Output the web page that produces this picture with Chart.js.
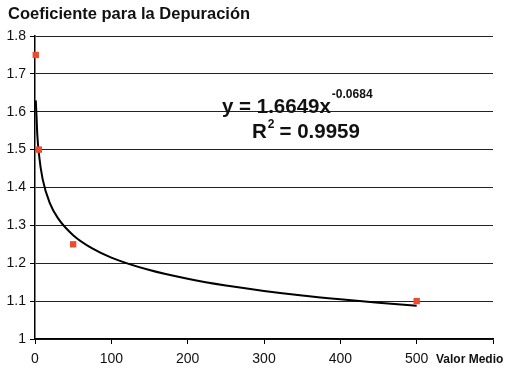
<!DOCTYPE html>
<html>
<head>
<meta charset="utf-8">
<script src="https://cdn.jsdelivr.net/npm/chart.js@4.4.1/dist/chart.umd.min.js"></script>
<style>
  html, body { margin: 0; padding: 0; background: #fff; }
  #wrap { width: 514px; height: 376px; position: relative; }
</style>
</head>
<body>
<div id="wrap"><canvas id="chart" width="514" height="376"></canvas></div>
<script>
// measured points
const pointX = [1, 5, 50, 500];
const pointY = [1.75, 1.5, 1.25, 1.1];

// trend curve
const curveX = [1, 2, 3, 5, 10, 20, 30, 50, 75, 100, 150, 200, 250, 300, 350, 400, 450, 500];
const curveY = [1.63, 1.588, 1.54, 1.491, 1.422, 1.356, 1.319, 1.274, 1.239, 1.215, 1.182, 1.159, 1.141, 1.127, 1.115, 1.105, 1.096, 1.088];

const yTicks = [1, 1.1, 1.2, 1.3, 1.4, 1.5, 1.6, 1.7, 1.8];
const xTicks = [0, 100, 200, 300, 400, 500, 600];

const titleText = "Coeficiente para la Depuración";
const xTitle = "Valor Medio";

// extra texts: title, equation, axis name
const textPlugin = {
    id: 'texts',
    afterDraw(chart) {
        const c = chart.ctx;
        c.save();
        c.fillStyle = '#111';
        c.textBaseline = 'alphabetic';
        c.textAlign = 'left';

        c.font = 'bold 16.5px "Liberation Sans", Arial, sans-serif';
        c.fillText(titleText, 8, 19);

        c.font = 'bold 12px "Liberation Sans", Arial, sans-serif';
        c.fillText(xTitle, 436, 363);

        // equation
        c.font = 'bold 20.5px "Liberation Sans", Arial, sans-serif';
        const eq = "y = 1.6649x";
        c.fillText(eq, 222, 113);
        const w = c.measureText(eq).width;
        c.font = 'bold 12px "Liberation Sans", Arial, sans-serif';
        c.fillText("-0.0684", 222 + w + 1, 98);

        c.font = 'bold 20.5px "Liberation Sans", Arial, sans-serif';
        c.fillText("R", 252, 138);
        let rw = c.measureText("R").width;
        c.font = 'bold 12px "Liberation Sans", Arial, sans-serif';
        c.fillText("2", 252 + rw + 1, 128);
        c.font = 'bold 20.5px "Liberation Sans", Arial, sans-serif';
        c.fillText(" = 0.9959", 252 + rw + 7, 138);
        c.restore();
    }
};

new Chart(document.getElementById('chart').getContext('2d'), {
    type: 'scatter',
    data: {
        datasets: [
            {
                label: 'trend',
                data: curveX.map((x, i) => ({ x: x, y: curveY[i] })),
                showLine: true,
                borderColor: '#000',
                borderWidth: 2,
                pointRadius: 0,
                cubicInterpolationMode: 'monotone',
                order: 2
            },
            {
                label: 'points',
                data: pointX.map((x, i) => ({ x: x, y: pointY[i] })),
                pointStyle: 'rect',
                pointRadius: 4.5,
                backgroundColor: '#ee4b2e',
                borderColor: '#ee4b2e',
                borderWidth: 0,
                clip: false,
                order: 1
            }
        ]
    },
    options: {
        responsive: false,
        animation: false,
        layout: {
            padding: { top: 36, right: 21, bottom: 0, left: 0 }
        },
        plugins: {
            legend: { display: false },
            tooltip: { enabled: false }
        },
        scales: {
            x: {
                type: 'linear',
                min: 0,
                max: 600,
                afterBuildTicks: scale => { scale.ticks = xTicks.map(v => ({ value: v })); },
                afterFit: scale => { scale.height = 37; },
                grid: {
                    drawOnChartArea: false,
                    drawTicks: true,
                    tickLength: 5,
                    tickColor: '#000'
                },
                border: { color: '#000', width: 1.5 },
                ticks: {
                    padding: 7,
                    color: '#111',
                    font: { family: '"Liberation Sans", Arial, sans-serif', size: 14 },
                    callback: v => (v === 600 ? '' : v)
                }
            },
            y: {
                min: 1,
                max: 1.8,
                afterBuildTicks: scale => { scale.ticks = yTicks.map(v => ({ value: v })); },
                afterFit: scale => { scale.width = 35; },
                grid: {
                    color: '#222',
                    lineWidth: 1,
                    drawTicks: true,
                    tickLength: 5,
                    tickColor: '#000'
                },
                border: { color: '#000', width: 1.5 },
                ticks: {
                    padding: 4,
                    color: '#111',
                    font: { family: '"Liberation Sans", Arial, sans-serif', size: 14 },
                    callback: v => (v === 1 ? '1' : v.toFixed(1))
                }
            }
        }
    },
    plugins: [textPlugin]
});
</script>
</body>
</html>
